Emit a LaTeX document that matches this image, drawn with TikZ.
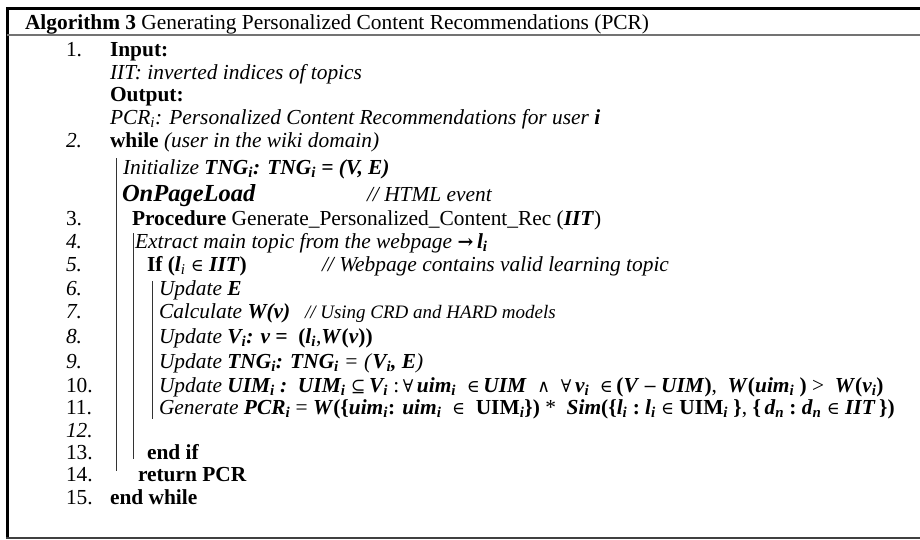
\documentclass[tikz,border=0pt]{standalone}
\usepackage{fontspec}
\setmainfont{Liberation Serif}
\newfontfamily\symf{DejaVu Serif}
\newcommand\bi[1]{\textbf{\textit{#1}}}
\newcommand\sbi[1]{\textsubscript{\textbf{\textit{#1}}}}
\newcommand\si[1]{\textsubscript{\textit{#1}}}
\newcommand\sy[1]{{\symf\fontsize{17.5}{20}\selectfont #1}}
\begin{document}
\begin{tikzpicture}[x=1pt,y=-1pt,
  txt/.style={anchor=base west, inner sep=0pt, outer sep=0pt, font=\fontsize{21.4}{25}\selectfont},
  num/.style={txt},
  barline/.style={draw=black!80, line width=0.9pt},
  frameline/.style={draw=black, line width=3pt}]
\useasboundingbox (0,0) rectangle (920,539);
% frame
\draw[frameline] (6,8.5) -- (920,8.5);
\draw[draw=black, line width=2.6pt] (7.3,7) -- (7.3,539);
\draw[draw=black!55, line width=1.2pt] (7,35) -- (920,35);
\draw[draw=black!75, line width=1.6pt] (6,538) -- (920,538);
% title
\node[txt] (title) at (25,29) {\textbf{Algorithm 3} Generating Personalized Content Recommendations (PCR)};
% numbers
\node[num] (n1)  at (66,56)    {1.};
\node[num] (n2)  at (66,147.5) {\textit{2.}};
\node[num] (n3)  at (66,225)   {3.};
\node[num] (n4)  at (66,248)   {\textit{4.}};
\node[num] (n5)  at (66,271.5) {\textit{5.}};
\node[num] (n6)  at (66,295)   {\textit{6.}};
\node[num] (n7)  at (66,318)   {\textit{7.}};
\node[num] (n8)  at (66,343.5) {\textit{8.}};
\node[num] (n9)  at (66,368)   {\textit{9.}};
\node[num] (n10) at (66,392)   {10.};
\node[num] (n11) at (66,414.5) {11.};
\node[num] (n12) at (66,437)   {\textit{12.}};
\node[num] (n13) at (66,459)   {13.};
\node[num] (n14) at (66,481.5) {14.};
\node[num] (n15) at (66,504)   {15.};
% lines
\node[txt] (l1a) at (110,56)    {\textbf{Input:}};
\node[txt] (l1b) at (110,79)    {\textit{IIT: inverted indices of topics}};
\node[txt] (l1c) at (110,101)   {\textbf{Output:}};
\node[txt] (l1d) at (110,124)   {\textit{PCR\si{i}: Personalized Content Recommendations for user} \bi{i}};
\node[txt] (l2)  at (110,147.5) {\textbf{while} \textit{(user in the wiki domain)}};
\node[txt] (l2a) at (123,174)   {\textit{Initialize} \bi{TNG\sbi{i}: TNG\sbi{i} = (V, E)}};
\node[txt,font=\fontsize{24.5}{28}\selectfont] (l2b) at (122,201) {\bi{OnPageLoad}};
\node[txt] (c2b) at (367,201)   {\textit{// HTML event}};
\node[txt] (l3)  at (132,225)   {\textbf{Procedure} Generate\_Personalized\_Content\_Rec (\bi{IIT})};
\node[txt] (l4)  at (135,248)   {\textit{Extract main topic from the webpage} {\symf\bfseries\fontsize{19}{20}\selectfont →}\,\bi{l\sbi{i}}};
\node[txt] (l5)  at (147,271.5) {\textbf{If (}\bi{l}\si{i} \sy{∈} \bi{IIT}\textbf{)}};
\node[txt] (c5)  at (322,271.5) {\textit{// Webpage contains valid learning topic}};
\node[txt] (l6)  at (159,295)   {\textit{Update} \bi{E}};
\node[txt] (l7)  at (159,318)   {\textit{Calculate} \bi{W(v)}};
\node[txt,font=\fontsize{19}{23}\selectfont] (c7) at (305,318) {\textit{// Using CRD and HARD models}};
\node[txt] (l8)  at (159,343.5) {\textit{Update} \bi{V\sbi{i}: v =}\ \ \textbf{(}\bi{l\sbi{i}},\bi{W}\textbf{(}\bi{v}\textbf{))}};
\node[txt] (l9)  at (159,368)   {\textit{Update} \bi{TNG\sbi{i}: TNG\sbi{i}} \textit{= (}\bi{V\sbi{i}, E}\textit{)}};
\node[txt] (l10) at (159,392)   {\textit{Update} \bi{UIM\sbi{i} :\ \ UIM\sbi{i}} \sy{⊆}\,\bi{V\sbi{i}} :\,\sy{∀}\,\bi{uim\sbi{i}}\ \ \sy{∈}\,\bi{UIM}\ \ \sy{∧}\ \ \sy{∀}\,\bi{v\sbi{i}}\ \ \sy{∈}\,\textbf{(}\bi{V}\,\sy{−}\,\bi{UIM}\textbf{)},\ \ \bi{W}\textbf{(}\bi{uim\sbi{i}}\ \textbf{)} > \ \bi{W}\textbf{(}\bi{v\sbi{i}}\textbf{)}};
\node[txt] (l11) at (159,414.5) {\textit{Generate} \bi{PCR\sbi{i}} = \bi{W}\textbf{(\{}\bi{uim\sbi{i}}\textbf{:} \bi{uim\sbi{i}}\ \ \sy{∈}\ \ \textbf{UIM\sbi{i}\})} * \ \bi{Sim}\textbf{(\{}\bi{l\sbi{i}} \textbf{:}\ \bi{l\sbi{i}}\ \sy{∈}\ \textbf{UIM\sbi{i}}\ \textbf{\}}, \textbf{\{}\,\bi{d\sbi{n}} \textbf{:}\ \bi{d\sbi{n}}\ \sy{∈}\ \bi{IIT}\,\textbf{\})}};
\node[txt] (l13) at (147,459)   {\textbf{end if}};
\node[txt] (l14) at (138,481.5) {\textbf{return PCR}};
\node[txt] (l15) at (110,504)   {\textbf{end while}};
% block bars
\coordinate (a1) at (116,158);   \coordinate (a2) at (116,471);
\coordinate (b1) at (133.5,233); \coordinate (b2) at (133.5,459);
\coordinate (c1) at (152,281);   \coordinate (c2) at (152,419);
\draw[barline] (a1) -- (a2);
\draw[barline] (b1) -- (b2);
\draw[barline] (c1) -- (c2);
\end{tikzpicture}
\end{document}
